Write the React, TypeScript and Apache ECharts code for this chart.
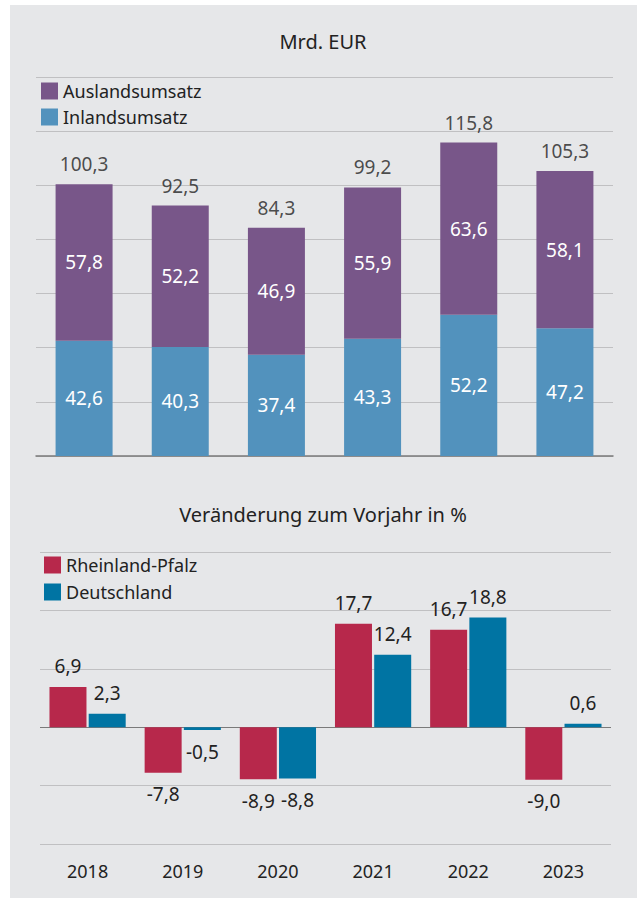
import React, { useEffect, useRef } from 'react';
import * as echarts from 'echarts';

const years = ['2018', '2019', '2020', '2021', '2022', '2023'];
const inland = [42.6, 40.3, 37.4, 43.3, 52.2, 47.2];
const ausland = [57.8, 52.2, 46.9, 55.9, 63.6, 58.1];
const totals = [100.3, 92.5, 84.3, 99.2, 115.8, 105.3];
const rlp = [6.9, -7.8, -8.9, 17.7, 16.7, -9.0];
const de = [2.3, -0.5, -8.8, 12.4, 18.8, 0.6];

const FONT = '"Noto Sans", sans-serif';
const TXT = '#222222';
const LBL = 19;
const fmt = (v: number) => v.toFixed(1).replace('.', ',');

export default function App() {
  const ref = useRef<HTMLDivElement>(null);
  useEffect(() => {
    if (!ref.current) return;
    const chart = echarts.init(ref.current, undefined, { renderer: 'svg' });
    const signed = (arr: number[]) =>
      arr.map((v) => ({
        value: v,
        label: v < 0 ? { position: 'bottom', distance: 12 } : { position: 'top', distance: 11 },
      }));
    const grid = { color: '#c0c0c2', width: 1.2 };
    chart.setOption({
      animation: false,
      textStyle: { fontFamily: FONT },
      graphic: [
        {
          type: 'text',
          x: 313,
          y: 36,
          style: { text: 'Mrd. EUR', font: `20px ${FONT}`, fill: TXT, align: 'center', verticalAlign: 'middle' },
        },
        {
          type: 'text',
          x: 313,
          y: 509,
          style: {
            text: 'Veränderung zum Vorjahr in %',
            font: `20px ${FONT}`,
            fill: TXT,
            align: 'center',
            verticalAlign: 'middle',
          },
        },
      ],
      legend: [
        {
          data: ['Auslandsumsatz', 'Inlandsumsatz'],
          orient: 'vertical',
          left: 26,
          top: 72,
          itemWidth: 17,
          itemHeight: 17,
          itemGap: 8,
          icon: 'rect',
          textStyle: { fontSize: 18, color: TXT, fontFamily: FONT },
        },
        {
          data: ['Rheinland-Pfalz', 'Deutschland'],
          orient: 'vertical',
          left: 29,
          top: 546,
          itemWidth: 17,
          itemHeight: 17,
          itemGap: 9,
          icon: 'rect',
          textStyle: { fontSize: 18, color: TXT, fontFamily: FONT },
        },
      ],
      grid: [
        { left: 26, top: 72, width: 577, height: 379 },
        { left: 30, top: 547, width: 571, height: 292 },
      ],
      xAxis: [
        {
          gridIndex: 0,
          type: 'category',
          data: years,
          axisLine: { lineStyle: { color: '#7a7a7a', width: 1.5 } },
          axisTick: { show: false },
          axisLabel: { show: false },
        },
        {
          gridIndex: 1,
          type: 'category',
          data: years,
          axisLine: { show: false },
          axisTick: { show: false },
          axisLabel: { fontSize: 18, color: TXT, margin: 18, fontFamily: FONT },
        },
      ],
      yAxis: [
        {
          gridIndex: 0,
          type: 'value',
          min: 0,
          max: 140,
          interval: 20,
          axisLabel: { show: false },
          axisLine: { show: false },
          axisTick: { show: false },
          splitLine: { lineStyle: grid },
        },
        {
          gridIndex: 1,
          type: 'value',
          min: -20,
          max: 30,
          interval: 10,
          axisLabel: { show: false },
          axisLine: { show: false },
          axisTick: { show: false },
          splitLine: {
            lineStyle: {
              color: ['#c0c0c2', '#c0c0c2', '#7a7a7a', '#c0c0c2', '#c0c0c2', '#c0c0c2'],
              width: 1.2,
            },
          },
        },
      ],
      series: [
        {
          name: 'Inlandsumsatz',
          type: 'bar',
          stack: 'u',
          xAxisIndex: 0,
          yAxisIndex: 0,
          barWidth: 57,
          data: inland,
          itemStyle: { color: '#5292bd' },
          label: { show: true, position: 'inside', color: '#ffffff', fontSize: LBL, fontFamily: FONT, formatter: (p: any) => fmt(p.value) },
        },
        {
          name: 'Auslandsumsatz',
          type: 'bar',
          stack: 'u',
          xAxisIndex: 0,
          yAxisIndex: 0,
          barWidth: 57,
          data: ausland,
          itemStyle: { color: '#785689' },
          label: { show: true, position: 'inside', color: '#ffffff', fontSize: LBL, fontFamily: FONT, formatter: (p: any) => fmt(p.value) },
        },
        {
          name: 'Summe',
          type: 'scatter',
          xAxisIndex: 0,
          yAxisIndex: 0,
          data: totals,
          symbol: 'rect',
          symbolSize: 1,
          itemStyle: { color: 'rgba(0,0,0,0)' },
          label: { show: true, position: 'top', distance: 10, color: TXT, fontSize: LBL, fontFamily: FONT, formatter: (p: any) => fmt(p.value) },
          silent: true,
        },
        {
          name: 'Rheinland-Pfalz',
          type: 'bar',
          xAxisIndex: 1,
          yAxisIndex: 1,
          barWidth: 37,
          barGap: '6%',
          data: signed(rlp),
          itemStyle: { color: '#b7284b' },
          label: { show: true, color: TXT, fontSize: LBL, fontFamily: FONT, formatter: (p: any) => fmt(p.value) },
        },
        {
          name: 'Deutschland',
          type: 'bar',
          xAxisIndex: 1,
          yAxisIndex: 1,
          barWidth: 37,
          barGap: '6%',
          data: signed(de),
          itemStyle: { color: '#0074a3' },
          label: { show: true, color: TXT, fontSize: LBL, fontFamily: FONT, formatter: (p: any) => fmt(p.value) },
        },
      ],
    });
    return () => chart.dispose();
  }, []);

  return (
    <div style={{ position: 'absolute', left: 0, top: 0, width: 638, height: 898, background: '#ffffff' }}>
      <div
        ref={ref}
        style={{ position: 'absolute', left: 10, top: 5, width: 627, height: 893, background: '#e6e7e9' }}
      />
    </div>
  );
}
